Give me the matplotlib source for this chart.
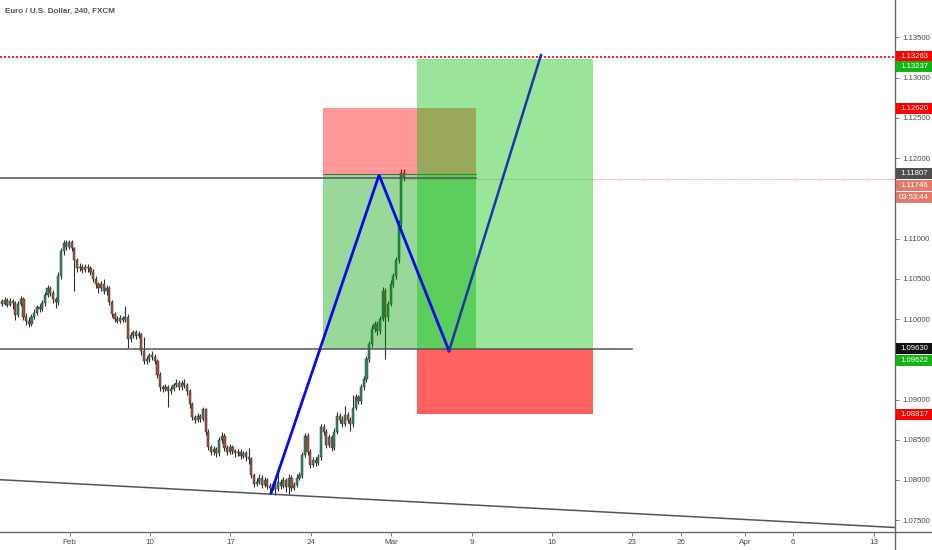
import matplotlib
matplotlib.use("Agg")
import matplotlib.pyplot as plt
from matplotlib.patches import Rectangle
from matplotlib.lines import Line2D

# ---------------- data ----------------
title = "Euro / U.S. Dollar, 240, FXCM"

first_open = 1.1022
closes = [1.1019, 1.1024, 1.1018, 1.1023, 1.1020, 1.1005, 1.1019, 1.1025, 1.1003, 1.0998,
          1.0994, 1.1003, 1.1008, 1.1015, 1.1013, 1.1020, 1.1030, 1.1038, 1.1033, 1.1025,
          1.1021, 1.1054, 1.1084, 1.1094, 1.1090, 1.1096, 1.1088, 1.1073, 1.1063, 1.1065,
          1.1061, 1.1065, 1.1063, 1.1059, 1.1050, 1.1043, 1.1038, 1.1043, 1.1035, 1.1038,
          1.1021, 1.1006, 1.1000, 1.0998, 1.1001, 1.0999, 1.1003, 1.0975, 1.0980, 1.0984,
          1.0979, 1.0981, 1.0960, 1.0948, 1.0950, 1.0955, 1.0953, 1.0948, 1.0931, 1.0915,
          1.0913, 1.0915, 1.0911, 1.0913, 1.0918, 1.0921, 1.0915, 1.0920, 1.0918, 1.0910,
          1.0894, 1.0878, 1.0875, 1.0879, 1.0876, 1.0888, 1.0860, 1.0841, 1.0835, 1.0838,
          1.0833, 1.0850, 1.0855, 1.0840, 1.0835, 1.0841, 1.0836, 1.0833, 1.0835, 1.0830,
          1.0833, 1.0828, 1.0826, 1.0806, 1.0795, 1.0798, 1.0803, 1.0794, 1.0800, 1.0793,
          1.0790, 1.0795, 1.0789, 1.0798, 1.0793, 1.0800, 1.0791, 1.0803, 1.0790, 1.0794,
          1.0803, 1.0806, 1.0831, 1.0855, 1.0835, 1.0819, 1.0825, 1.0821, 1.0828, 1.0866,
          1.0860, 1.0844, 1.0853, 1.0840, 1.0860, 1.0880, 1.0875, 1.0870, 1.0881, 1.0875,
          1.0869, 1.0890, 1.0903, 1.0898, 1.0915, 1.0925, 1.0950, 1.0969, 1.0988, 1.0994,
          1.0985, 1.1000, 1.1035, 1.1003, 1.1019, 1.1044, 1.1053, 1.1073, 1.1119, 1.1182,
          1.1175]
highs = [1.1025, 1.1027, 1.1026, 1.1026, 1.1025, 1.1022, 1.1022, 1.1029, 1.1027, 1.1008,
         1.1002, 1.1006, 1.1012, 1.1018, 1.1019, 1.1024, 1.1034, 1.1042, 1.1041, 1.1036,
         1.1028, 1.1058, 1.1088, 1.1098, 1.1098, 1.1098, 1.1098, 1.1090, 1.1076, 1.1070,
         1.1068, 1.1069, 1.1068, 1.1066, 1.1062, 1.1053, 1.1046, 1.1047, 1.1050, 1.1042,
         1.1041, 1.1024, 1.1009, 1.1004, 1.1005, 1.1004, 1.1016, 1.1006, 1.0984, 1.0987,
         1.0987, 1.0985, 1.0983, 1.0978, 1.0954, 1.0958, 1.0960, 1.0956, 1.0950, 1.0934,
         1.0918, 1.0919, 1.0918, 1.0917, 1.0921, 1.0925, 1.0924, 1.0924, 1.0926, 1.0921,
         1.0913, 1.0897, 1.0881, 1.0883, 1.0882, 1.0891, 1.0890, 1.0863, 1.0844, 1.0842,
         1.0841, 1.0853, 1.0859, 1.0858, 1.0843, 1.0845, 1.0844, 1.0839, 1.0839, 1.0838,
         1.0836, 1.0836, 1.0840, 1.0829, 1.0809, 1.0802, 1.0807, 1.0806, 1.0804, 1.0803,
         1.0796, 1.0799, 1.0798, 1.0812, 1.0801, 1.0804, 1.0803, 1.0807, 1.0806, 1.0798,
         1.0807, 1.0810, 1.0835, 1.0858, 1.0858, 1.0838, 1.0829, 1.0828, 1.0832, 1.0870,
         1.0869, 1.0863, 1.0857, 1.0856, 1.0864, 1.0884, 1.0883, 1.0879, 1.0892, 1.0884,
         1.0878, 1.0906, 1.0907, 1.0906, 1.0919, 1.0929, 1.0954, 1.0973, 1.0993, 1.0998,
         1.0998, 1.1004, 1.1040, 1.1038, 1.1023, 1.1048, 1.1057, 1.1077, 1.1123, 1.1186,
         1.1187]
lows = [1.1016, 1.1017, 1.1015, 1.1016, 1.1012, 1.0999, 1.1002, 1.1016, 1.0999, 1.0993,
        1.0990, 1.0991, 1.1000, 1.1005, 1.1009, 1.1010, 1.1016, 1.1027, 1.1029, 1.1020,
        1.1014, 1.1018, 1.1050, 1.1080, 1.1086, 1.1087, 1.1084, 1.1035, 1.1058, 1.1060,
        1.1057, 1.1058, 1.1059, 1.1055, 1.1046, 1.1039, 1.1033, 1.1035, 1.1031, 1.1030,
        1.1017, 1.1002, 1.0996, 1.0995, 1.0995, 1.0996, 1.0996, 1.0964, 1.0972, 1.0977,
        1.0975, 1.0976, 1.0955, 1.0944, 1.0944, 1.0947, 1.0949, 1.0944, 1.0927, 1.0911,
        1.0909, 1.0910, 1.0891, 1.0907, 1.0910, 1.0915, 1.0912, 1.0912, 1.0914, 1.0906,
        1.0890, 1.0874, 1.0871, 1.0872, 1.0872, 1.0873, 1.0856, 1.0837, 1.0831, 1.0831,
        1.0829, 1.0830, 1.0846, 1.0836, 1.0831, 1.0832, 1.0832, 1.0829, 1.0830, 1.0826,
        1.0827, 1.0824, 1.0820, 1.0802, 1.0791, 1.0792, 1.0795, 1.0790, 1.0791, 1.0789,
        1.0785, 1.0787, 1.0781, 1.0786, 1.0789, 1.0790, 1.0785, 1.0783, 1.0786, 1.0787,
        1.0791, 1.0800, 1.0803, 1.0828, 1.0831, 1.0815, 1.0816, 1.0817, 1.0818, 1.0825,
        1.0856, 1.0840, 1.0841, 1.0836, 1.0837, 1.0857, 1.0871, 1.0866, 1.0867, 1.0871,
        1.0861, 1.0866, 1.0887, 1.0894, 1.0895, 1.0912, 1.0922, 1.0946, 1.0965, 1.0984,
        1.0980, 1.0981, 1.0997, 1.0950, 1.0998, 1.1016, 1.1040, 1.1050, 1.1070, 1.1115,
        1.1172]
opens = [first_open] + closes[:-1]

# x axis: bar index (4h bars, 6 per trading day); date labels at trading-day offsets from Feb 3
bars_per_day = 6
feb3_bar = 25.2
tick_days = [0, 5, 10, 15, 20, 25, 30, 35, 38, 42, 45, 50]
tick_labels = ["Feb", "10", "17", "24", "Mar", "9", "16", "23", "26", "Apr", "6", "13"]
price_ticks = [1.075, 1.080, 1.085, 1.090, 1.095, 1.100, 1.105, 1.110, 1.115, 1.120,
               1.125, 1.130, 1.135]
hidden_price_ticks = [1.095, 1.115]   # covered by price tags in the reference

# drawings
zigzag_bars = [100.4, 140.7, 166.8, 201.1]
zigzag_prices = [1.07838, 1.11791, 1.09603, 1.13282]
trend_bars = [-0.75, 333.2]
trend_prices = [1.08003, 1.07409]
upper_level = 1.11753
upper_level_bars = [-1, 176.9]
lower_level = 1.09630
lower_level_bars = [-1, 235.1]
target_line = 1.13263
current_price = 1.11746
short_bars = [119.9, 176.9]
short_stop, short_entry, short_target = 1.12620, 1.11807, 1.09630
long_bars = [155.0, 220.6]
long_target, long_entry, long_stop = 1.13237, 1.09622, 1.08817

tag_texts = ["1.13263", "1.13237", "1.12620", "1.11807", "1.11746", "03:53:44",
             "1.09630", "1.09622", "1.08817"]
tag_prices = [1.13263, 1.13237, 1.12620, 1.11807, 1.11746, 1.11746,
              1.09630, 1.09622, 1.08817]
tag_colors = ["#ff0000", "#13b513", "#ff0000", "#4f4f4f", "#e47a6c", "#e47a6c",
              "#111111", "#13b513", "#ff0000"]
tag_shift_px = [0, 8, 0, 0, 7, 19, 0, 11, 0]

# ---------------- figure ----------------
W, H = 932, 550
fig = plt.figure(figsize=(W / 100, H / 100), dpi=100)
fig.patch.set_facecolor("white")
ax_left_px, ax_bottom_px, ax_right_px, ax_top_px = 0, 18, 895, 550
ax = fig.add_axes([ax_left_px / W, ax_bottom_px / H,
                   (ax_right_px - ax_left_px) / W, (ax_top_px - ax_bottom_px) / H])
ax.set_xlim(-0.75, 333.2)
ax.set_ylim(1.07353, 1.13966)

FONT = ["Liberation Sans Narrow", "Liberation Sans", "DejaVu Sans"]
TXT = "#4a4a4a"

# candles
n = len(closes)
xs = list(range(n))
up_c, dn_c = "#2a8a60", "#a24e3a"
body_colors = [up_c if c >= o else dn_c for o, c in zip(opens, closes)]
ax.vlines(xs, lows, highs, color="#2e2e2e", lw=0.8, zorder=2)
ax.bar(xs, [max(abs(c - o), 0.00005) for o, c in zip(opens, closes)],
       bottom=[min(o, c) for o, c in zip(opens, closes)], width=0.8,
       color=body_colors, edgecolor="#3a3a3a", linewidth=0.35, zorder=2.5)

# horizontal levels and trend line
ax.plot(upper_level_bars, [upper_level] * 2, color="#555555", lw=1.1, zorder=4)
ax.plot(lower_level_bars, [lower_level] * 2, color="#555555", lw=1.1, zorder=4)
ax.plot(trend_bars, trend_prices, color="#555555", lw=1.1, zorder=4)
ax.axhline(target_line, color="#ff0000", lw=1.2, ls=(0, (1.2, 1.2)), zorder=4)
ax.plot([n - 1, 340], [current_price] * 2, color="#e57373", lw=0.6,
        ls=(0, (1, 1.5)), zorder=1.5)

# short position tool
ax.add_patch(Rectangle((short_bars[0], short_entry), short_bars[1] - short_bars[0],
                       short_stop - short_entry, facecolor=(1, 0, 0, 0.4),
                       edgecolor="none", zorder=3))
ax.add_patch(Rectangle((short_bars[0], short_target), short_bars[1] - short_bars[0],
                       short_entry - short_target, facecolor=(0.0, 0.62, 0.0, 0.4),
                       edgecolor="none", zorder=3))
ax.plot(short_bars, [short_entry] * 2, color="#4d6e4d", lw=0.8, zorder=3.1)

# long position tool
ax.add_patch(Rectangle((long_bars[0], long_entry), long_bars[1] - long_bars[0],
                       long_target - long_entry, facecolor=(0.0, 0.75, 0.0, 0.4),
                       edgecolor="none", zorder=3.2))
ax.add_patch(Rectangle((long_bars[0], long_stop), long_bars[1] - long_bars[0],
                       long_entry - long_stop, facecolor=(1, 0, 0, 0.62),
                       edgecolor="none", zorder=3.2))

# zigzag
ax.plot(zigzag_bars[:3], zigzag_prices[:3], color="#0a0af0", lw=2.0,
        solid_joinstyle="miter", zorder=6)
ax.plot(zigzag_bars[2:], zigzag_prices[2:], color="#1e35b0", lw=1.8, zorder=6)

# axes styling
for s in ["top", "left", "right", "bottom"]:
    ax.spines[s].set_visible(False)
ax.yaxis.tick_right()
ax.set_yticks(price_ticks)
ax.set_yticklabels(["" if p in hidden_price_ticks else f"{p:.5f}" for p in price_ticks],
                   fontsize=5.6, color=TXT, family=FONT)
ax.set_xticks([feb3_bar + bars_per_day * d for d in tick_days])
ax.set_xticklabels(tick_labels, fontsize=5.8, color=TXT, family=FONT)
ax.tick_params(axis="y", length=3, width=0.6, color="#666666", pad=2)
ax.tick_params(axis="x", length=3, width=0.6, color="#666666", pad=2)

# frame lines spanning the whole figure
fig.add_artist(Line2D([0, 1], [ax_bottom_px / H] * 2, color="#6a6a6a", lw=1.0))
fig.add_artist(Line2D([ax_right_px / W] * 2, [0, 1], color="#6a6a6a", lw=1.0))

# title
fig.text(5 / W, 1 - 11 / H, title, fontsize=5.8, color="#555555", fontweight="bold",
         family=FONT, va="center", ha="left")

# price tags on the right axis
fig.canvas.draw()
for txt, p, col, sh in zip(tag_texts, tag_prices, tag_colors, tag_shift_px):
    ypix = ax.transData.transform((0, p))[1] - sh
    rh = 11
    fig.add_artist(Rectangle(((ax_right_px + 1) / W, (ypix - rh / 2) / H),
                             (W - ax_right_px - 1) / W, rh / H,
                             facecolor=col, edgecolor="none", zorder=5,
                             transform=fig.transFigure))
    fig.text((ax_right_px + 19) / W, ypix / H, txt, fontsize=5.6, color="white",
             ha="center", va="center", family=FONT, zorder=6)

fig.savefig("out.png", dpi=100)
